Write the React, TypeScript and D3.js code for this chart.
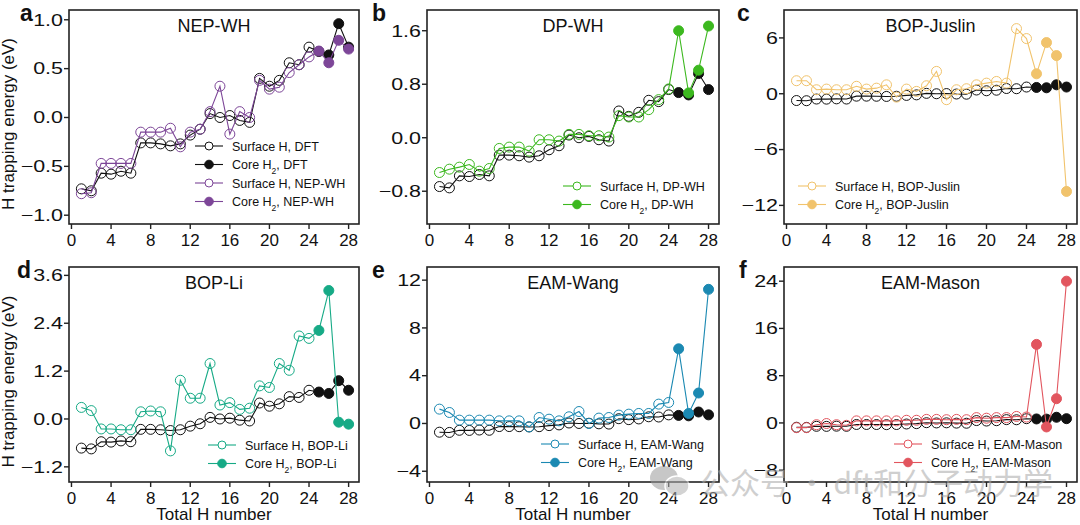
import React from 'react';
import * as d3 from 'd3';

// ── Data ──────────────────────────────────────────────────────────────────────
const H_NUMBER = d3.range(1, 29);
const SURFACE_COUNT = 24;

const DFT = [
  -0.73, -0.75, -0.57, -0.58, -0.55, -0.57, -0.26, -0.26, -0.27, -0.29, -0.27, -0.18,
  -0.12, 0.04, 0.0, 0.02, -0.03, -0.05, 0.4, 0.32, 0.38, 0.56, 0.54, 0.72,
  0.675, 0.64, 0.96, 0.72,
];
const NEP_WH = [
  -0.78, -0.77, -0.47, -0.47, -0.47, -0.47, -0.15, -0.15, -0.15, -0.11, -0.3, -0.15,
  -0.12, 0.06, 0.32, -0.17, 0.06, 0.0, 0.38, 0.29, 0.31, 0.46, 0.54, 0.62,
  0.68, 0.56, 0.79, 0.7,
];
const DP_WH = [
  -0.52, -0.47, -0.44, -0.4, -0.5, -0.46, -0.16, -0.14, -0.14, -0.2, -0.03, -0.03,
  -0.05, 0.05, 0.05, 0.03, 0.03, 0.01, 0.33, 0.31, 0.31, 0.42, 0.57, 0.73,
  1.6, 0.67, 1.01, 1.67,
];
const BOP_JUSLIN = [
  1.4, 1.4, 0.43, 0.5, 0.43, 0.43, 0.8, 0.5, 0.6, 0.96, -0.36, 0.5,
  0.25, 0.86, 2.4, -0.64, 0.43, 0.54, 0.96, 1.14, 1.32, 1.14, 7.0, 5.93,
  2.14, 5.5, 4.1, -10.5,
];
const BOP_LI = [
  0.29, 0.21, -0.25, -0.25, -0.27, -0.27, 0.18, 0.2, 0.18, -0.8, 0.97, 0.52,
  0.52, 1.39, 0.35, 0.41, 0.24, 0.27, 0.83, 0.79, 1.39, 1.22, 2.08, 2.02,
  2.22, 3.22, -0.08, -0.13,
];
const EAM_WANG = [
  1.2, 0.92, 0.28, 0.28, 0.28, 0.28, 0.22, 0.22, 0.22, -0.28, 0.5, 0.36,
  0.22, 0.56, 1.0, 0.0, 0.45, 0.5, 0.7, 0.78, 0.84, 0.84, 1.62, 1.76,
  6.25, 0.84, 2.55, 11.23,
];
const EAM_MASON = [
  -0.8, -0.8, -0.3, -0.1, -0.3, -0.4, 0.35, 0.35, 0.35, 0.35, 0.35, 0.45,
  0.45, 0.6, 0.6, 0.55, 0.6, 0.55, 0.9, 0.8, 0.9, 0.9, 1.1, 1.0,
  13.3, -0.68, 4.1, 24.0,
];

const X_TICKS = [0, 4, 8, 12, 16, 20, 24, 28];

interface Panel {
  letter: string;
  name: string;
  values: number[];
  color: string;
  yDomain: [number, number];
  yTicks: number[];
  fmt: string;
  showDftLegend: boolean;
}

const PANELS: Panel[] = [
  { letter: 'a', name: 'NEP-WH', values: NEP_WH, color: '#7d4698', yDomain: [-1.09, 1.1], yTicks: [-1, -0.5, 0, 0.5, 1], fmt: '.1f', showDftLegend: true },
  { letter: 'b', name: 'DP-WH', values: DP_WH, color: '#3cb81f', yDomain: [-1.29, 1.91], yTicks: [-0.8, 0, 0.8, 1.6], fmt: '.1f', showDftLegend: false },
  { letter: 'c', name: 'BOP-Juslin', values: BOP_JUSLIN, color: '#f1c36c', yDomain: [-14, 9], yTicks: [-12, -6, 0, 6], fmt: 'd', showDftLegend: false },
  { letter: 'd', name: 'BOP-Li', values: BOP_LI, color: '#16aa86', yDomain: [-1.58, 3.81], yTicks: [-1.2, 0, 1.2, 2.4, 3.6], fmt: '.1f', showDftLegend: false },
  { letter: 'e', name: 'EAM-Wang', values: EAM_WANG, color: '#1b89b2', yDomain: [-4.9, 13.1], yTicks: [-4, 0, 4, 8, 12], fmt: 'd', showDftLegend: false },
  { letter: 'f', name: 'EAM-Mason', values: EAM_MASON, color: '#e2555e', yDomain: [-10, 26.4], yTicks: [-8, 0, 8, 16, 24], fmt: 'd', showDftLegend: false },
];

// ── Layout ────────────────────────────────────────────────────────────────────
const W = 1080;
const H = 525;
const COLS = [
  { x0: 69, x1: 359 },
  { x0: 427, x1: 719 },
  { x0: 784, x1: 1077 },
];
const ROWS = [
  { y0: 10, y1: 224 },
  { y0: 267, y1: 482 },
];
// legend anchor (line start x, first row y) per panel
const LEGEND_POS = [
  { x: 195, y: 146 },
  { x: 563, y: 186 },
  { x: 798, y: 186 },
  { x: 208, y: 445 },
  { x: 541, y: 444 },
  { x: 894, y: 444 },
];
// panel letter x positions
const LETTER_X = [20, 372, 737, 17, 372, 739];

const FONT = '"Liberation Sans", Arial, sans-serif';
const AXIS = '#222';
const R = 5;

const Sub2: React.FC = () => (
  <tspan baselineShift="sub" fontSize="8.5">2</tspan>
);

const LegendRow: React.FC<{ x: number; y: number; color: string; filled: boolean; label: React.ReactNode }> = ({ x, y, color, filled, label }) => (
  <g>
    <line x1={x} x2={x + 28} y1={y} y2={y} stroke={color} strokeWidth={1.1} />
    <circle cx={x + 14} cy={y} r={filled ? 4.3 : 4} fill={filled ? color : 'white'} stroke={color} strokeWidth={1} />
    <text x={x + 37} y={y + 4.5} fontSize={12.5} fill="#111" fontFamily={FONT}>{label}</text>
  </g>
);

const PanelChart: React.FC<{ p: Panel; i: number }> = ({ p, i }) => {
  const col = COLS[i % 3];
  const row = ROWS[Math.floor(i / 3)];
  const x = d3.scaleLinear().domain([-0.25, 29.05]).range([col.x0, col.x1]);
  const y = d3.scaleLinear().domain(p.yDomain).range([row.y1, row.y0]);
  const line = d3.line<number>().x((_, k) => x(H_NUMBER[k])).y(v => y(v));
  const fmt = d3.format(p.fmt);
  const leg = LEGEND_POS[i];

  const drawSeries = (vals: number[], color: string, key: string) => (
    <g key={key}>
      <path d={line(vals) || ''} fill="none" stroke={color} strokeWidth={1.1} />
      {vals.map((v, k) => {
        const filled = k >= SURFACE_COUNT;
        return (
          <circle key={k} cx={x(H_NUMBER[k])} cy={y(v)} r={R}
            fill={filled ? color : 'none'} stroke={color} strokeWidth={1} />
        );
      })}
    </g>
  );

  const rows: { color: string; filled: boolean; label: React.ReactNode }[] = [];
  if (p.showDftLegend) {
    rows.push({ color: '#111', filled: false, label: 'Surface H, DFT' });
    rows.push({ color: '#111', filled: true, label: <>Core H<Sub2 />, DFT</> });
  }
  rows.push({ color: p.color, filled: false, label: `Surface H, ${p.name}` });
  rows.push({ color: p.color, filled: true, label: <>Core H<Sub2 />, {p.name}</> });
  const rowGap = 18.5;

  return (
    <g>
      <defs>
        <clipPath id={`clip-${p.letter}`}>
          <rect x={col.x0} y={row.y0} width={col.x1 - col.x0} height={row.y1 - row.y0} />
        </clipPath>
      </defs>
      <g clipPath={`url(#clip-${p.letter})`}>
        {drawSeries(DFT, '#111', 'dft')}
        {drawSeries(p.values, p.color, 'model')}
      </g>
      <rect x={col.x0} y={row.y0} width={col.x1 - col.x0} height={row.y1 - row.y0}
        fill="none" stroke={AXIS} strokeWidth={1.6} />
      {/* x axis */}
      {X_TICKS.map(t => (
        <g key={t}>
          <line x1={x(t)} x2={x(t)} y1={row.y1} y2={row.y1 + 5} stroke={AXIS} strokeWidth={1.4} />
          <text x={x(t)} y={row.y1 + 22} textAnchor="middle" fontSize={17} fill="#111" fontFamily={FONT}>{t}</text>
        </g>
      ))}
      {/* y axis */}
      {p.yTicks.map(t => (
        <g key={t}>
          <line x1={col.x0 - 5} x2={col.x0} y1={y(t)} y2={y(t)} stroke={AXIS} strokeWidth={1.4} />
          <text transform={`translate(${col.x0 - 6},${y(t) + 5.8}) scale(1.3,1)`} textAnchor="end"
            fontSize={16.5} fill="#111" fontFamily={FONT}>{fmt(t)}</text>
        </g>
      ))}
      <text x={(col.x0 + col.x1) / 2} y={row.y0 + 22} textAnchor="middle" fontSize={18} fill="#111" fontFamily={FONT}>{p.name}</text>
      <text x={LETTER_X[i]} y={row.y0 + 11} fontSize={23} fontWeight="bold" fill="#111" fontFamily={FONT}>{p.letter}</text>
      {rows.map((r, k) => (
        <LegendRow key={k} x={leg.x} y={leg.y + k * rowGap} color={r.color} filled={r.filled} label={r.label} />
      ))}
      {i % 3 === 0 && (
        <text transform={`translate(14,${(row.y0 + row.y1) / 2 + 7}) rotate(-90)`} textAnchor="middle"
          fontSize={17} fill="#111" fontFamily={FONT}>H trapping energy (eV)</text>
      )}
      {i >= 3 && (
        <text x={(col.x0 + col.x1) / 2} y={520} textAnchor="middle" fontSize={17} fill="#111" fontFamily={FONT}>Total H number</text>
      )}
    </g>
  );
};

export default function App() {
  return (
    <svg width={W} height={H} style={{ position: 'absolute', left: 0, top: 0, background: 'white' }}>
      <rect width={W} height={H} fill="white" />
      {PANELS.map((p, i) => <PanelChart key={p.letter} p={p} i={i} />)}
      {/* watermark */}
      <g opacity={0.55}>
        <ellipse cx={664} cy={478} rx={14} ry={12} fill="#9a9a9a" />
        <ellipse cx={677} cy={486} rx={12} ry={10} fill="#b0b0b0" stroke="white" strokeWidth={1.5} />
        <text x={700} y={494} fontSize={30} fill="#a8a8a8" fontFamily='"Noto Sans CJK SC", sans-serif'>公众号 · dft和分子动力学</text>
      </g>
    </svg>
  );
}
